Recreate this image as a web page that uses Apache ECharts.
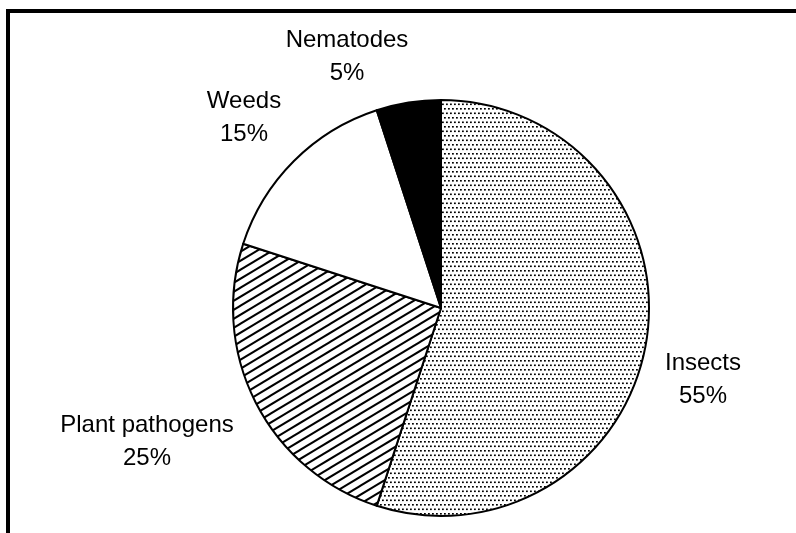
<!DOCTYPE html>
<html>
<head>
<meta charset="utf-8">
<script src="https://cdn.jsdelivr.net/npm/echarts@6/dist/echarts.min.js"></script>
<style>
  html, body { margin: 0; padding: 0; background: #fff; }
  #chart { width: 796px; height: 533px; }
</style>
</head>
<body>
<div id="chart"></div>
<script>
// ---- data ----
const categories = ['Insects', 'Plant pathogens', 'Weeds', 'Nematodes'];
const values = [55, 25, 15, 5];

// ---- layout (label anchor centres, px) ----
const LABEL_POS = [[703, 380], [147, 442], [244, 118], [347, 57]];

// ---- fill patterns ----
function stipple() {
  const c = document.createElement('canvas');
  c.width = 8; c.height = 9;
  const g = c.getContext('2d');
  g.fillStyle = '#fff'; g.fillRect(0, 0, 8, 9);
  g.fillStyle = '#000';
  [[0, 0], [4, 0], [2, 4.5], [6, 4.5]].forEach(p => g.fillRect(p[0], p[1], 1.8, 1.6));
  return c;
}
function hatch() {
  const w = 30, h = 18;
  const c = document.createElement('canvas');
  c.width = w; c.height = h;
  const g = c.getContext('2d');
  g.fillStyle = '#fff'; g.fillRect(0, 0, w, h);
  g.strokeStyle = '#000'; g.lineWidth = 2;
  for (let k = -18; k <= 36; k += 9) {
    g.beginPath(); g.moveTo(-1, k + 0.6); g.lineTo(w + 1, k - 18 - 0.6); g.stroke();
  }
  return c;
}
const fills = [
  { image: stipple(), repeat: 'repeat' },
  { image: hatch(), repeat: 'repeat' },
  '#ffffff',
  '#000000'
];

const chart = echarts.init(document.getElementById('chart'), null, { renderer: 'canvas' });
chart.setOption({
  backgroundColor: '#fff',
  animation: false,
  graphic: [
    { type: 'rect', shape: { x: 6, y: 9, width: 790, height: 4 }, style: { fill: '#000' } },
    { type: 'rect', shape: { x: 6, y: 9, width: 4, height: 524 }, style: { fill: '#000' } }
  ],
  series: [{
    type: 'pie',
    center: [441, 308],
    radius: 208,
    startAngle: 90,
    clockwise: true,
    silent: true,
    emphasis: { disabled: true },
    data: categories.map((name, i) => ({
      name, value: values[i],
      itemStyle: { color: fills[i], borderColor: '#000', borderWidth: 2 }
    })),
    label: {
      show: true,
      position: 'outside',
      formatter: p => p.name + '\n' + p.value + '%',
      fontFamily: 'Liberation Sans, Arial, sans-serif',
      fontSize: 24,
      lineHeight: 33,
      color: '#000',
      align: 'center'
    },
    labelLine: { show: false },
    labelLayout: p => {
      const pos = LABEL_POS[p.dataIndex];
      return { x: pos[0], y: pos[1], align: 'center', verticalAlign: 'middle' };
    }
  }]
});
</script>
</body>
</html>
